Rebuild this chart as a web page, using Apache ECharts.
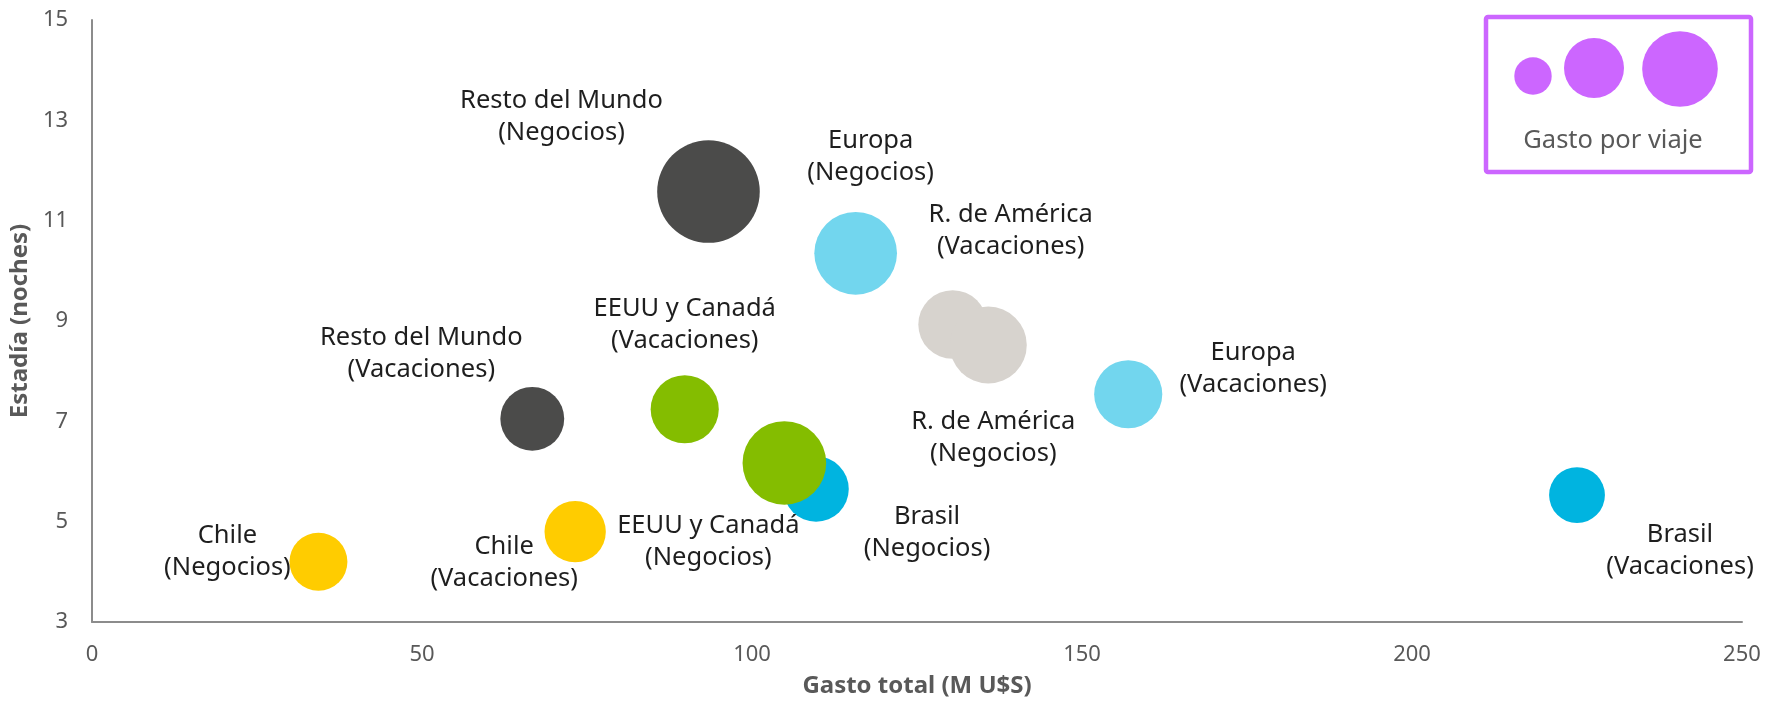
<!DOCTYPE html>
<html lang="es">
<head>
  <meta charset="UTF-8">
  <title>Gasto y estadía</title>
  <style>
    html, body { margin: 0; padding: 0; background: #fff; }
    #main { width: 1768px; height: 703px; }
  </style>
</head>
<body>
  <div id="main"></div>
</body>
<script src="https://cdn.jsdelivr.net/npm/echarts@6/dist/echarts.min.js"></script>
<script>
  // datos
  const destinos = ['Chile', 'Chile', 'Resto del Mundo', 'Resto del Mundo', 'EEUU y Canadá', 'Brasil',
    'EEUU y Canadá', 'Europa', 'R. de América', 'R. de América', 'Europa', 'Brasil'];
  const motivos = ['Negocios', 'Vacaciones', 'Vacaciones', 'Negocios', 'Vacaciones', 'Negocios',
    'Negocios', 'Negocios', 'Vacaciones', 'Negocios', 'Vacaciones', 'Vacaciones'];
  const gastoTotal = [34.3, 73.2, 66.7, 93.4, 89.8, 109.7, 104.9, 115.7, 130.4, 135.8, 157.0, 225.0];
  const estadia = [4.20, 4.80, 7.05, 11.58, 7.24, 5.65, 6.17, 10.35, 8.93, 8.52, 7.54, 5.53];
  const gastoViaje = [840, 940, 1020, 2630, 1160, 1070, 1750, 1710, 1180, 1480, 1160, 780];
  const legendGasto = [350, 900, 1430];

  const colores = {
    'Chile': '#FFCC00',
    'Resto del Mundo': '#4B4B4A',
    'EEUU y Canadá': '#84BD00',
    'Brasil': '#00B4E0',
    'Europa': '#72D6EE',
    'R. de América': '#D7D3CE'
  };

  // desplazamiento de cada etiqueta respecto del centro de la burbuja
  const labelOffsets = [[-91, -10], [-71, 31], [-111, -65], [-147, -75], [0, -85], [111, 44],
    [-76, 79], [15, -97], [58, -94], [5, 93], [125, -26], [103, 56]];

  const txt = '#595959';
  const font = 'Noto Sans';

  let myChart = echarts.init(document.getElementById('main'));

  let data = gastoTotal.map(function (g, i) {
    return {
      name: destinos[i] + '\n(' + motivos[i] + ')',
      value: [g, estadia[i], gastoViaje[i]],
      itemStyle: { color: colores[destinos[i]] }
    };
  });

  const legendX = [1533, 1594, 1680];
  const legendY = [76, 68, 69];

  myChart.setOption({
    animation: false,
    grid: { left: 90, right: 26, top: 20, bottom: 81 },
    xAxis: {
      type: 'value',
      min: 0, max: 250, interval: 50,
      name: 'Gasto total (M U$S)',
      nameLocation: 'middle',
      nameGap: 52,
      nameTextStyle: { fontFamily: font, fontWeight: 'bold', fontSize: 24, color: txt },
      axisLine: { show: true, lineStyle: { color: '#8C8C8C', width: 2 } },
      axisTick: { show: false },
      splitLine: { show: false },
      axisLabel: { fontFamily: font, fontSize: 22, color: txt, margin: 22 }
    },
    yAxis: {
      type: 'value',
      min: 3, max: 15, interval: 2,
      name: 'Estadía (noches)',
      nameLocation: 'middle',
      nameGap: 52,
      nameTextStyle: { fontFamily: font, fontWeight: 'bold', fontSize: 24, color: txt },
      axisLine: { show: true, lineStyle: { color: '#8C8C8C', width: 2 } },
      axisTick: { show: false },
      splitLine: { show: false },
      axisLabel: { fontFamily: font, fontSize: 22, color: txt, margin: 24 }
    },
    series: [{
      type: 'scatter',
      data: data,
      symbolSize: function (v) { return 2 * Math.sqrt(v[2]); },
      itemStyle: { opacity: 1 },
      label: {
        show: true,
        position: 'inside',
        formatter: '{b}',
        align: 'center',
        verticalAlign: 'middle',
        fontFamily: font,
        fontSize: 25.5,
        lineHeight: 32,
        color: '#1E1E1E'
      },
      labelLayout: function (p) {
        return { dx: labelOffsets[p.dataIndex][0], dy: labelOffsets[p.dataIndex][1], hideOverlap: false };
      },
      emphasis: { disabled: true }
    }],
    graphic: [{
      type: 'rect',
      shape: { x: 1486, y: 17, width: 265, height: 155, r: 2 },
      style: { fill: '#fff', stroke: '#CC66FF', lineWidth: 4.5 }
    }].concat(legendGasto.map(function (v, i) {
      return {
        type: 'circle',
        shape: { cx: legendX[i], cy: legendY[i], r: Math.sqrt(v) },
        style: { fill: '#CC66FF' }
      };
    })).concat([{
      type: 'text',
      x: 1613, y: 141,
      style: {
        text: 'Gasto por viaje',
        fontFamily: font, fontSize: 25.5, fill: txt,
        align: 'center', verticalAlign: 'middle'
      }
    }])
  });
</script>
</html>
